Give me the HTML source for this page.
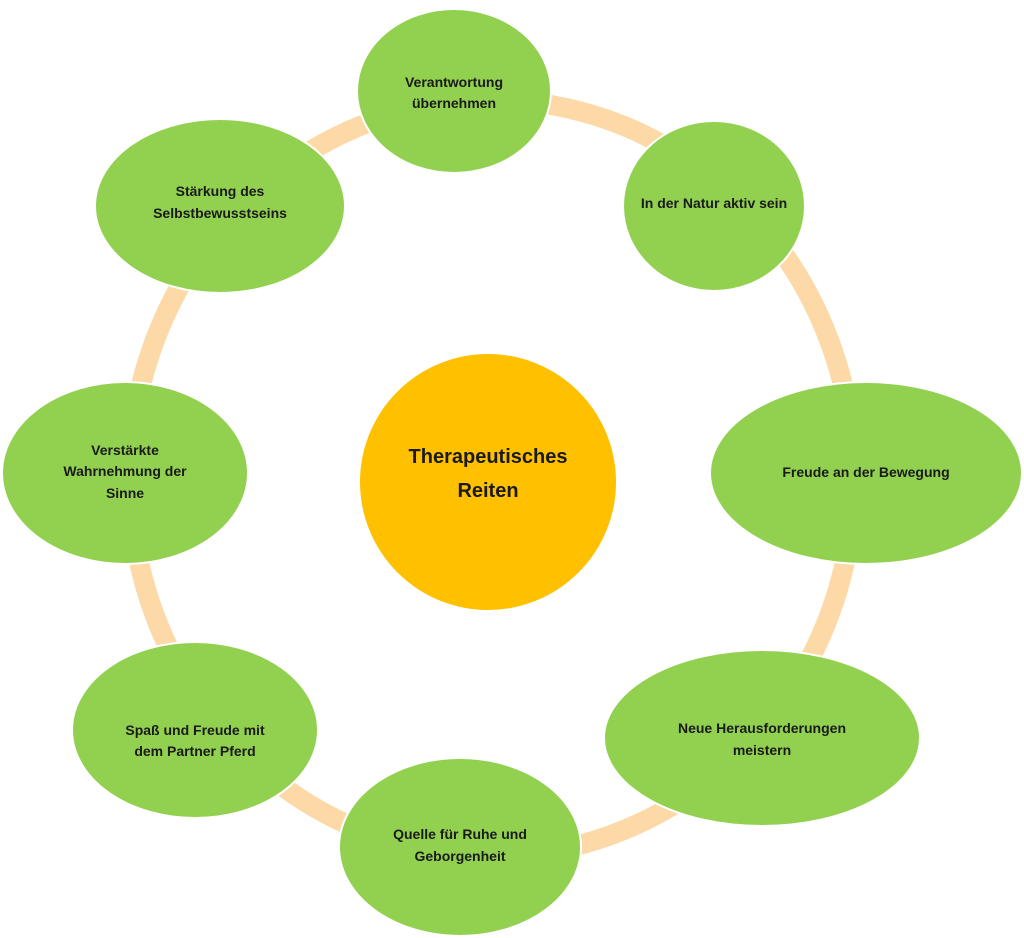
<!DOCTYPE html>
<html><head><meta charset="utf-8"><style>
html,body{margin:0;padding:0;background:#fff;}
svg{display:block;}
text{font-family:"Liberation Sans",sans-serif;font-weight:bold;font-size:14px;fill:#1a1a1a;text-anchor:middle;}
</style></head><body>
<svg width="1024" height="938" viewBox="0 0 1024 938">
<ellipse cx="492" cy="478" rx="362" ry="378" fill="none" stroke="#FCD9A6" stroke-width="20"/>
<g fill="#92D050" stroke="#fff" stroke-width="2">
<ellipse cx="454" cy="91" rx="97" ry="82"/>
<ellipse cx="714" cy="206" rx="91" ry="85"/>
<ellipse cx="866" cy="473" rx="156" ry="91"/>
<ellipse cx="762" cy="738" rx="158" ry="88"/>
<ellipse cx="460" cy="847" rx="121" ry="89"/>
<ellipse cx="195" cy="730" rx="123" ry="88"/>
<ellipse cx="125" cy="473" rx="123" ry="91"/>
<ellipse cx="220" cy="206" rx="125" ry="87"/>
</g>
<circle cx="488" cy="482" r="129" fill="#FFC000" stroke="#fff" stroke-width="2"/>
<text x="454" y="87">Verantwortung</text>
<text x="454" y="108">übernehmen</text>
<text x="714" y="208">In der Natur aktiv sein</text>
<text x="866" y="477">Freude an der Bewegung</text>
<text x="762" y="733">Neue Herausforderungen</text>
<text x="762" y="755">meistern</text>
<text x="460" y="839">Quelle für Ruhe und</text>
<text x="460" y="861">Geborgenheit</text>
<text x="195" y="735">Spaß und Freude mit</text>
<text x="195" y="756">dem Partner Pferd</text>
<text x="125" y="455">Verstärkte</text>
<text x="125" y="476">Wahrnehmung der</text>
<text x="125" y="498">Sinne</text>
<text x="220" y="196">Stärkung des</text>
<text x="220" y="218">Selbstbewusstseins</text>
<text x="488" y="463" style="font-size:20px">Therapeutisches</text>
<text x="488" y="497" style="font-size:20px">Reiten</text>
</svg>
</body></html>
